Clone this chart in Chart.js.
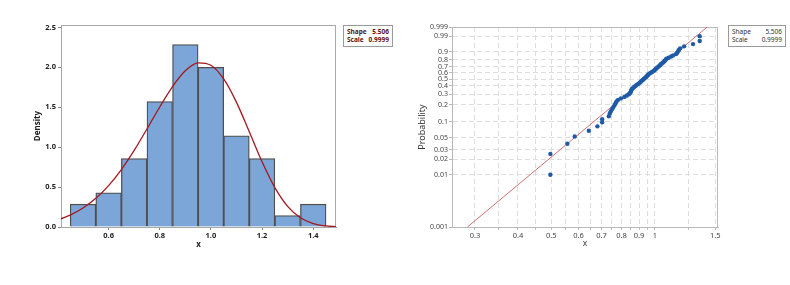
<!DOCTYPE html>
<html>
<head>
<meta charset="utf-8">
<script src="https://cdn.jsdelivr.net/npm/chart.js@4.4.1/dist/chart.umd.min.js"></script>
<style>
  body { margin: 0; background: #fff; width: 790px; height: 285px; overflow: hidden; position: relative; font-family: "Noto Sans", sans-serif; }
  .panel { position: absolute; top: 0; height: 285px; }
  .legend { position: absolute; border: 1px solid #9a9a9a; background: #fff; font-size: 6.5px; line-height: 8px; padding: 2px 3px; }
  .legend div { display: flex; justify-content: space-between; }
</style>
</head>
<body>
<div class="panel" style="left:0;width:400px"><canvas id="histChart"></canvas></div>
<div class="panel" style="left:400px;width:390px"><canvas id="probChart"></canvas></div>

<div class="legend" style="left:343px;top:25px;width:42px;font-weight:bold;color:#5b1414">
  <div><span>Shape</span><span>5.506</span></div>
  <div><span>Scale</span><span>0.9999</span></div>
</div>
<div class="legend" style="left:728px;top:25px;width:50px;color:#333">
  <div><span>Shape</span><span>5.506</span></div>
  <div><span>Scale</span><span>0.9999</span></div>
</div>

<script>
// histogram (density scale, bin width 0.1)
const binCenters = [0.5, 0.6, 0.7, 0.8, 0.9, 1.0, 1.1, 1.2, 1.3, 1.4];
const densities  = [0.286, 0.429, 0.857, 1.571, 2.286, 2.0, 1.143, 0.857, 0.143, 0.286];

// fitted weibull density curve
const curveX = [0.414, 0.45, 0.5, 0.55, 0.6, 0.65, 0.7, 0.75, 0.8, 0.85, 0.9, 0.95, 1.0, 1.05, 1.1, 1.15, 1.2, 1.25, 1.3, 1.35, 1.4, 1.45, 1.489];
const curveY = [0.103, 0.149, 0.237, 0.359, 0.519, 0.720, 0.959, 1.227, 1.503, 1.759, 1.957, 2.056, 2.026, 1.854, 1.561, 1.194, 0.817, 0.494, 0.259, 0.115, 0.043, 0.013, 0.004];

const histXTicks = [0.6, 0.8, 1.0, 1.2, 1.4];
const histYTicks = [0, 0.5, 1.0, 1.5, 2.0, 2.5];

// probability plot points
const obsX = [0.497, 0.497, 0.557, 0.585, 0.643, 0.681, 0.703, 0.703, 0.735, 0.740,
              0.745, 0.752, 0.758, 0.764, 0.769, 0.774, 0.782, 0.797, 0.816, 0.829,
              0.841, 0.847, 0.852, 0.854, 0.857, 0.863, 0.871, 0.879, 0.885, 0.895,
              0.903, 0.909, 0.915, 0.922, 0.929, 0.935, 0.942, 0.948, 0.953, 0.958,
              0.966, 0.975, 0.984, 0.993, 1.000, 1.006, 1.012, 1.019, 1.026, 1.034,
              1.040, 1.046, 1.055, 1.062, 1.069, 1.075, 1.081, 1.097, 1.115, 1.130,
              1.152, 1.160, 1.168, 1.175, 1.185, 1.217, 1.292, 1.351, 1.351];
const obsP = [0.010, 0.025, 0.039, 0.053, 0.068, 0.082, 0.097, 0.111, 0.125, 0.140,
              0.154, 0.169, 0.183, 0.197, 0.212, 0.226, 0.241, 0.255, 0.270, 0.284,
              0.298, 0.313, 0.327, 0.342, 0.356, 0.370, 0.385, 0.399, 0.414, 0.428,
              0.442, 0.457, 0.471, 0.486, 0.500, 0.514, 0.529, 0.543, 0.558, 0.572,
              0.587, 0.601, 0.615, 0.630, 0.644, 0.659, 0.673, 0.687, 0.702, 0.716,
              0.731, 0.745, 0.759, 0.774, 0.788, 0.803, 0.817, 0.831, 0.846, 0.860,
              0.875, 0.889, 0.904, 0.918, 0.932, 0.947, 0.961, 0.976, 0.990];

// fit line end points
const fitX = [0.2852, 1.4205];
const fitP = [0.001, 0.999];

const probTicks = [0.001, 0.01, 0.02, 0.03, 0.05, 0.1, 0.2, 0.3, 0.4, 0.5, 0.6, 0.7, 0.8, 0.9, 0.99, 0.999];
const xLabelTicks = [0.3, 0.4, 0.5, 0.6, 0.7, 0.8, 0.9, 1, 1.5];
const xGridTicks = [0.3, 0.35, 0.4, 0.45, 0.5, 0.55, 0.6, 0.65, 0.7, 0.75, 0.8, 0.85, 0.9, 0.95, 1, 1.25, 1.5];

const FONT = "'Noto Sans', sans-serif";

// weibull probability axis: ln(-ln(1-p))
const wb = p => Math.log(-Math.log(1 - p));
class WeibullProbScale extends Chart.Scale {
  static id = 'weibullprob';
  static defaults = {};
  parse(raw) { return raw; }
  determineDataLimits() {
    this.min = this.options.min;
    this.max = this.options.max;
  }
  buildTicks() { return probTicks.map(v => ({ value: v })); }
  configure() {
    super.configure();
    this._start = wb(this.min);
    this._range = wb(this.max) - this._start;
  }
  getLabelForValue(v) { return String(v); }
  getPixelForValue(v) {
    return this.getPixelForDecimal((wb(v) - this._start) / this._range);
  }
  getValueForPixel(px) {
    const d = this.getDecimalForPixel(px);
    return 1 - Math.exp(-Math.exp(this._start + d * this._range));
  }
}
Chart.register(WeibullProbScale);

const frame = {
  id: 'frame',
  beforeDatasetsDraw(chart, args, opts) {
    const { ctx, chartArea: a } = chart;
    ctx.save();
    ctx.strokeStyle = opts.color;
    ctx.lineWidth = 1;
    ctx.strokeRect(Math.round(a.left) + 0.5, Math.round(a.top) + 0.5, Math.round(a.right - a.left) - 1, Math.round(a.bottom - a.top));
    ctx.restore();
  }
};

new Chart(document.getElementById('histChart'), {
  data: {
    datasets: [{
      type: 'bar',
      data: binCenters.map((x, i) => ({ x: x, y: densities[i] })),
      backgroundColor: '#7ca5d8',
      borderColor: '#4f4f4f',
      borderWidth: 1.3,
      barPercentage: 1,
      categoryPercentage: 1,
      order: 2
    }, {
      type: 'line',
      data: curveX.map((x, i) => ({ x: x, y: curveY[i] })),
      borderColor: '#a3191f',
      borderWidth: 1.3,
      pointRadius: 0,
      cubicInterpolationMode: 'monotone',
      order: 1
    }]
  },
  options: {
    responsive: true,
    maintainAspectRatio: false,
    animation: false,
    layout: { padding: { left: 0, right: 64, top: 25, bottom: 28 } },
    plugins: { legend: { display: false }, tooltip: { enabled: false }, frame: { color: '#a8a8a8' } },
    scales: {
      x: {
        type: 'linear',
        offset: false,
        min: 0.414,
        max: 1.489,
        afterBuildTicks: s => { s.ticks = histXTicks.map(v => ({ value: v })); },
        afterFit: s => { s.height = 30; },
        ticks: { callback: v => v.toFixed(1), color: '#222', font: { family: FONT, size: 7.5, weight: 'bold' }, padding: 1, maxRotation: 0 },
        grid: { display: true, offset: false, drawOnChartArea: false, tickLength: 3, tickColor: '#888' },
        border: { color: '#a8a8a8' },
        title: { display: true, text: 'x', color: '#222', font: { family: FONT, size: 8, weight: 'bold' }, padding: { top: 0, bottom: 7 } }
      },
      y: {
        type: 'linear',
        min: 0,
        max: 2.53,
        afterBuildTicks: s => { s.ticks = histYTicks.map(v => ({ value: v })); },
        afterFit: s => { s.width = 61; },
        ticks: { callback: v => v.toFixed(1), color: '#222', font: { family: FONT, size: 7.5, weight: 'bold' }, padding: 2 },
        grid: { display: true, drawOnChartArea: false, tickLength: 3, tickColor: '#888' },
        border: { color: '#a8a8a8' },
        title: { display: true, text: 'Density', color: '#222', font: { family: FONT, size: 8, weight: 'bold' }, padding: { top: 33, bottom: 0 } }
      }
    }
  },
  plugins: [frame]
});

new Chart(document.getElementById('probChart'), {
  data: {
    datasets: [{
      type: 'scatter',
      data: obsX.map((x, i) => ({ x: x, y: obsP[i] })),
      backgroundColor: '#1e5aa6',
      borderColor: '#1e5aa6',
      pointRadius: 2.2,
      borderWidth: 0,
      order: 1
    }, {
      type: 'line',
      data: fitX.map((x, i) => ({ x: x, y: fitP[i] })),
      borderColor: '#d07070',
      borderWidth: 1,
      pointRadius: 0,
      order: 2
    }]
  },
  options: {
    responsive: true,
    maintainAspectRatio: false,
    animation: false,
    layout: { padding: { left: 0, right: 72, top: 27, bottom: 28 } },
    plugins: { legend: { display: false }, tooltip: { enabled: false }, frame: { color: '#b8b8b8' } },
    scales: {
      x: {
        type: 'logarithmic',
        min: 0.2572,
        max: 1.527,
        afterBuildTicks: s => { s.ticks = xGridTicks.map(v => ({ value: v })); },
        afterFit: s => { s.height = 30; },
        ticks: { autoSkip: false, maxRotation: 0, callback: v => xLabelTicks.includes(v) ? String(v) : '', color: '#444', font: { family: FONT, size: 7.5 }, padding: 1 },
        grid: { color: '#dedede', tickLength: 3, tickColor: '#bbb' },
        border: { color: '#b8b8b8', dash: [5, 3] },
        title: { display: true, text: 'x', color: '#333', font: { family: FONT, size: 8.5 }, padding: { top: 0, bottom: 8 } }
      },
      y: {
        type: 'weibullprob',
        min: 0.001,
        max: 0.999,
        afterFit: s => { s.width = 52; },
        ticks: { autoSkip: false, color: '#444', font: { family: FONT, size: 7 }, padding: 1 },
        grid: { color: '#dedede', tickLength: 3, tickColor: '#bbb' },
        border: { color: '#b8b8b8', dash: [5, 3] },
        title: { display: true, text: 'Probability', color: '#333', font: { family: FONT, size: 9 }, padding: { top: 17, bottom: 0 } }
      }
    }
  },
  plugins: [frame]
});
</script>
</body>
</html>
